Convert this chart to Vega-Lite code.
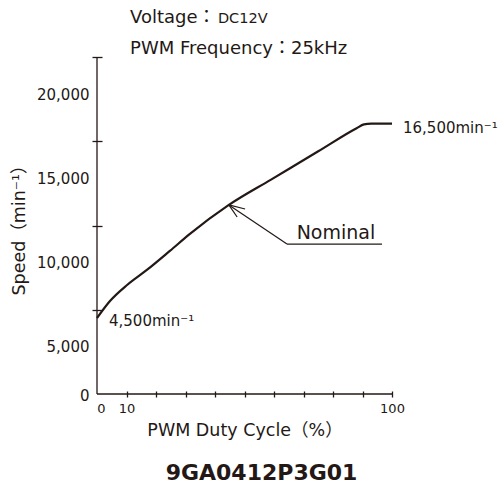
{
  "$schema": "https://vega.github.io/schema/vega-lite/v6.json",
  "width": 295,
  "height": 337,
  "autosize": {"type": "none"},
  "padding": {"left": 97, "top": 57, "right": 110, "bottom": 96},
  "background": "white",
  "config": {
    "view": {"stroke": null},
    "font": "DejaVu Sans, Noto Sans CJK JP",
    "text": {"font": "DejaVu Sans, Noto Sans CJK JP", "color": "#231815"},
    "axis": {
      "domain": false,
      "grid": false,
      "labelOverlap": false,
      "labelFlush": false,
      "labelBound": false,
      "tickWidth": 1.3,
      "tickColor": "#231815",
      "labelColor": "#231815",
      "labelFont": "DejaVu Sans",
      "titleFont": "DejaVu Sans, Noto Sans CJK JP",
      "titleFontWeight": "normal",
      "titleColor": "#231815"
    },
    "axisX": {
      "offset": -3,
      "tickSize": 6,
      "tickCount": 11,
      "labelPadding": 5,
      "labelFontSize": 13,
      "titleFontSize": 17.5,
      "titlePadding": 6
    },
    "axisY": {
      "offset": -5,
      "tickSize": 10,
      "tickCount": 5,
      "labelPadding": 3,
      "labelFontSize": 15,
      "titleFontSize": 17.5,
      "titlePadding": 8
    }
  },
  "title": {
    "text": "9GA0412P3G01",
    "orient": "bottom",
    "anchor": "middle",
    "frame": "group",
    "dx": 17,
    "offset": 24,
    "font": "DejaVu Sans",
    "fontSize": 22,
    "fontWeight": "bold",
    "color": "#231815"
  },
  "datasets": {
    "curve": [
      {"duty": 0, "speed": 4510},
      {"duty": 4.4, "speed": 5520},
      {"duty": 10.2, "speed": 6470},
      {"duty": 16.9, "speed": 7360},
      {"duty": 24.7, "speed": 8490},
      {"duty": 31.5, "speed": 9500},
      {"duty": 44.7, "speed": 11220},
      {"duty": 59, "speed": 12724},
      {"duty": 75, "speed": 14406},
      {"duty": 88, "speed": 15775},
      {"duty": 90.5, "speed": 16000},
      {"duty": 93, "speed": 16045},
      {"duty": 100, "speed": 16050}
    ],
    "segments": [
      {"part": "shaft", "x1": 44.7, "y1": 11220, "x2": 64.4, "y2": 8900},
      {"part": "arm1", "x1": 44.7, "y1": 11220, "x2": 50.2, "y2": 10979},
      {"part": "arm2", "x1": 44.7, "y1": 11220, "x2": 47.5, "y2": 10504},
      {"part": "underline", "x1": 64.4, "y1": 8900, "x2": 96.6, "y2": 8900}
    ],
    "one": [{}]
  },
  "layer": [
    {
      "data": {"name": "curve"},
      "mark": {"type": "line", "color": "#231815", "strokeWidth": 2.2, "interpolate": "monotone"},
      "encoding": {
        "x": {
          "field": "duty",
          "type": "quantitative",
          "scale": {"domain": [0, 100], "nice": false},
          "axis": {
            "title": "PWM Duty Cycle（%）",
            "values": [0, 10, 20, 30, 40, 50, 60, 70, 80, 90, 100],
            "tickCount": 11,
            "labelExpr": "datum.value == 0 || datum.value == 10 || datum.value == 100 ? format(datum.value, 'd') : ''",
            "tickOpacity": {"condition": {"test": "datum.value == 0", "value": 0}, "value": 1},
            "labelOffset": {"condition": {"test": "datum.value == 0", "value": 4}, "value": 0}
          }
        },
        "y": {
          "field": "speed",
          "type": "quantitative",
          "scale": {"domain": [0, 20000], "nice": false},
          "axis": {
            "title": "Speed（min⁻¹）",
            "values": [0, 5000, 10000, 15000, 20000],
            "tickCount": 5,
            "labelExpr": "format(datum.value, ',')",
            "tickOpacity": {"condition": {"test": "datum.value == 0", "value": 0}, "value": 1},
            "labelOffset": {"condition": {"test": "datum.value == 0", "value": 1}, "value": 37}
          }
        }
      }
    },
    {
      "data": {"name": "one"},
      "mark": {"type": "rule", "color": "#231815", "strokeWidth": 1.3},
      "encoding": {
        "x": {"datum": 0, "type": "quantitative"},
        "y": {"datum": 0, "type": "quantitative"},
        "y2": {"datum": 20000}
      }
    },
    {
      "data": {"name": "one"},
      "mark": {"type": "rule", "color": "#231815", "strokeWidth": 1.3},
      "encoding": {
        "x": {"datum": 0, "type": "quantitative"},
        "x2": {"datum": 100},
        "y": {"datum": 0, "type": "quantitative"}
      }
    },
    {
      "data": {"name": "segments"},
      "mark": {"type": "rule", "color": "#231815", "strokeWidth": 1.2},
      "encoding": {
        "x": {"field": "x1", "type": "quantitative"},
        "y": {"field": "y1", "type": "quantitative"},
        "x2": {"field": "x2"},
        "y2": {"field": "y2"}
      }
    },
    {
      "data": {"name": "one"},
      "mark": {"type": "text", "align": "left", "baseline": "middle", "dx": 12, "dy": 3, "fontSize": 15},
      "encoding": {
        "x": {"datum": 0, "type": "quantitative"},
        "y": {"datum": 4500, "type": "quantitative"},
        "text": {"value": "4,500min⁻¹"}
      }
    },
    {
      "data": {"name": "one"},
      "mark": {"type": "text", "align": "left", "baseline": "middle", "dx": 11, "dy": 4, "fontSize": 15},
      "encoding": {
        "x": {"datum": 100, "type": "quantitative"},
        "y": {"datum": 16050, "type": "quantitative"},
        "text": {"value": "16,500min⁻¹"}
      }
    },
    {
      "data": {"name": "one"},
      "mark": {"type": "text", "align": "center", "baseline": "alphabetic", "dy": -5, "fontSize": 19},
      "encoding": {
        "x": {"datum": 81, "type": "quantitative"},
        "y": {"datum": 8900, "type": "quantitative"},
        "text": {"value": "Nominal"}
      }
    },
    {
      "data": {"name": "one"},
      "mark": {"type": "text", "align": "left", "baseline": "alphabetic", "fontSize": 18},
      "encoding": {
        "x": {"datum": 11.2, "type": "quantitative"},
        "y": {"datum": 22018, "type": "quantitative"},
        "text": {"value": "Voltage："}
      }
    },
    {
      "data": {"name": "one"},
      "mark": {"type": "text", "align": "left", "baseline": "alphabetic", "fontSize": 14.5},
      "encoding": {
        "x": {"datum": 41, "type": "quantitative"},
        "y": {"datum": 22018, "type": "quantitative"},
        "text": {"value": "DC12V"}
      }
    },
    {
      "data": {"name": "one"},
      "mark": {"type": "text", "align": "left", "baseline": "alphabetic", "fontSize": 18},
      "encoding": {
        "x": {"datum": 11.2, "type": "quantitative"},
        "y": {"datum": 20178, "type": "quantitative"},
        "text": {"value": "PWM Frequency：25kHz"}
      }
    }
  ]
}
